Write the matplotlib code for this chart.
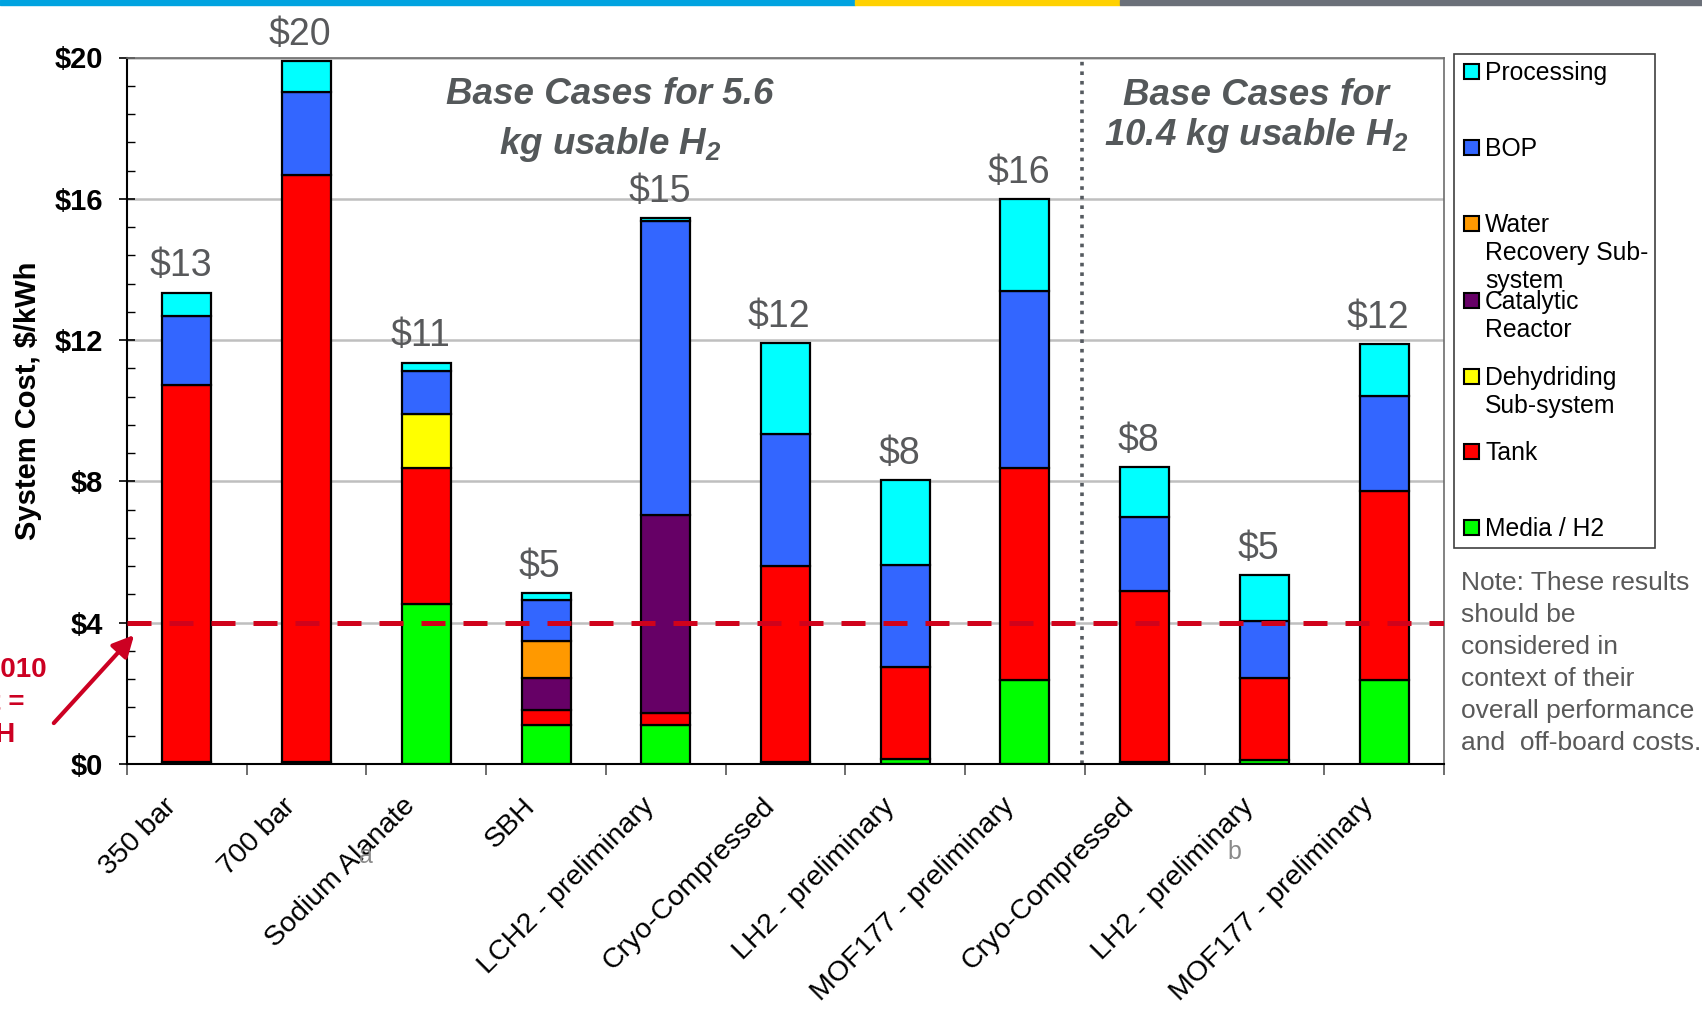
import numpy as np
import matplotlib
matplotlib.use("Agg")
import matplotlib.pyplot as plt
from matplotlib.patches import Rectangle
from matplotlib.transforms import ScaledTranslation

plt.rcParams['font.family'] = ['Liberation Sans', 'DejaVu Sans']
plt.rcParams['mathtext.fontset'] = 'custom'
plt.rcParams['mathtext.rm'] = 'Liberation Sans:bold:italic'
plt.rcParams['mathtext.it'] = 'Liberation Sans:bold:italic'
plt.rcParams['mathtext.bf'] = 'Liberation Sans:bold:italic'

categories = ["350 bar", "700 bar", "Sodium Alanate", "SBH", "LCH2 - preliminary",
              "Cryo-Compressed", "LH2 - preliminary", "MOF177 - preliminary",
              "Cryo-Compressed", "LH2 - preliminary", "MOF177 - preliminary"]

# cost components, $/kWh (bottom to top of the stack)
media = [0.05, 0.05, 4.52, 1.10, 1.10, 0.06, 0.13, 2.37, 0.05, 0.11, 2.37]
tank = [10.67, 16.62, 3.85, 0.43, 0.35, 5.55, 2.62, 6.02, 4.85, 2.33, 5.37]
dehydriding = [0, 0, 1.53, 0, 0, 0, 0, 0, 0, 0, 0]
catalytic = [0, 0, 0, 0.91, 5.61, 0, 0, 0, 0, 0, 0]
water = [0, 0, 0, 1.03, 0, 0, 0, 0, 0, 0, 0]
bop = [1.95, 2.34, 1.22, 1.18, 8.31, 3.72, 2.89, 5.01, 2.08, 1.60, 2.69]
processing = [0.67, 0.88, 0.24, 0.19, 0.09, 2.58, 2.39, 2.59, 1.43, 1.31, 1.45]

target = 4.0

layers = [
    ("Media / H2", media, "#00FF00"),
    ("Tank", tank, "#FF0000"),
    ("Dehydriding\nSub-system", dehydriding, "#FFFF00"),
    ("Catalytic\nReactor", catalytic, "#660066"),
    ("Water\nRecovery Sub-\nsystem", water, "#FF9900"),
    ("BOP", bop, "#3366FF"),
    ("Processing", processing, "#00FFFF"),
]

W, H = 1702, 1017
fig = plt.figure(figsize=(W / 100, H / 100), dpi=100)


def fx(px):
    return px / W


def fy(py):
    return 1 - py / H


ax = fig.add_axes([fx(127), fy(764), fx(1444 - 127), (764 - 57.5) / H])

x = np.arange(len(categories))
bottom = np.zeros(len(categories))
for name, vals, color in layers:
    vals = np.array(vals, dtype=float)
    m = vals > 0
    ax.bar(x[m], vals[m], bottom=bottom[m], width=0.41, color=color,
           edgecolor='black', linewidth=1.6, zorder=2)
    bottom += vals
totals = bottom

for xi, t in zip(x, totals):
    ax.annotate(f"${t:.0f}", (xi, t), xytext=(-4.5, 6), textcoords='offset points',
                ha='center', va='bottom', fontsize=27, color='#58595B')

# target line
ax.axhline(target, color='#D0021B', lw=3.6, dashes=(4.8, 3.6), zorder=4)
# separator between the two groups
ax.axvline(7.48, color='#555A60', lw=2.6, ls=':', zorder=1)

ax.set_xlim(-0.5, 10.5)
ax.set_ylim(0, 20)
yt = np.arange(0, 21, 4)
ax.set_yticks(yt, [f"${v}" for v in yt], fontsize=21, fontweight='bold')
ax.set_yticks(np.arange(0, 20.01, 0.8), minor=True)
ax.tick_params(axis='y', which='major', direction='inout', length=12, width=1.2, pad=11)
ax.tick_params(axis='y', which='minor', direction='in', length=6, width=1.0)
ax.grid(axis='y', which='major', color='#BFBFBF', lw=1.8, zorder=0)
ax.set_axisbelow(True)

ax.set_xticks(x, categories, rotation=45, ha='right', rotation_mode='anchor', fontsize=20.5)
ax.set_xticks(np.arange(-0.5, 11, 1), minor=True)
ax.tick_params(axis='x', which='major', length=0, pad=21)
ax.tick_params(axis='x', which='minor', direction='out', length=8, width=1.2, color='#555555')
shift = ScaledTranslation(-0.24, 0, fig.dpi_scale_trans)
for lbl in ax.get_xticklabels():
    lbl.set_transform(lbl.get_transform() + shift)

ax.spines['left'].set_linewidth(1.5)
ax.spines['bottom'].set_linewidth(1.5)
for s in ['top', 'right']:
    ax.spines[s].set_color('#6D6D6D')
    ax.spines[s].set_linewidth(1.2)

fig.text(fx(28), fy(401), 'System Cost, $/kWh', rotation=90, ha='center', va='center',
         fontsize=21, fontweight='bold')

title_kw = dict(ha='center', va='baseline', fontsize=26.5, fontweight='bold',
                style='italic', color='#54585A')
ax.text(3.535, 18.68, "Base Cases for 5.6", **title_kw)
ax.text(3.535, 17.27, r"kg usable H$_2$", **title_kw)
ax.text(8.93, 18.65, "Base Cases for", **title_kw)
ax.text(8.93, 17.51, r"10.4 kg usable H$_2$", **title_kw)

# target callout (cut off at the left edge)
ax.annotate("", xy=(-0.425, 3.71), xytext=(-1.127, 1.1),
            arrowprops=dict(arrowstyle='-|>', color='#CC0022', lw=3, mutation_scale=32),
            annotation_clip=False)
red_kw = dict(ha='right', va='center', color='#CC0022', fontsize=20, fontweight='bold')
fig.text(fx(47), fy(670), "DOE 2010", **red_kw)
fig.text(fx(24), fy(703), "Target =", **red_kw)
fig.text(fx(16), fy(735), "$4/kWH", **red_kw)

# footnote marks
fig.text(fx(366), fy(856), "a", color='#8A8A8A', fontsize=18, ha='center', va='center')
fig.text(fx(1234), fy(852), "b", color='#8A8A8A', fontsize=18, ha='center', va='center')

# legend
fig.patches.append(Rectangle((fx(1453.5), fy(548)), fx(1655 - 1453.5), (548 - 54) / H,
                             transform=fig.transFigure, facecolor='white',
                             edgecolor='#404040', lw=1.2))
row_y = [71.6, 147.6, 223.6, 300.7, 376.7, 451.6, 527.6]
for (name, vals, color), ry in zip(layers[::-1], row_y):
    fig.patches.append(Rectangle((fx(1464), fy(ry + 7.5)), fx(15), 15 / H,
                                 transform=fig.transFigure, facecolor=color,
                                 edgecolor='black', lw=1.5))
    fig.text(fx(1485), fy(ry - 10.5), name, ha='left', va='top', fontsize=17.8,
             linespacing=1.2, color='black')

fig.text(fx(1461), fy(571.5),
         "Note: These results\nshould be\nconsidered in\ncontext of their\n"
         "overall performance\nand  off-board costs.",
         ha='left', va='top', fontsize=19, color='#595959', linespacing=1.42)

# top colour strip
for x0, x1, c in [(0, 855, '#00A3E0'), (855, 1120, '#FFD100'), (1120, 1702, '#6B7079')]:
    fig.patches.append(Rectangle((fx(x0), fy(5)), fx(x1 - x0), 5 / H,
                                 transform=fig.transFigure, color=c))

fig.savefig("out.png", dpi=100)
